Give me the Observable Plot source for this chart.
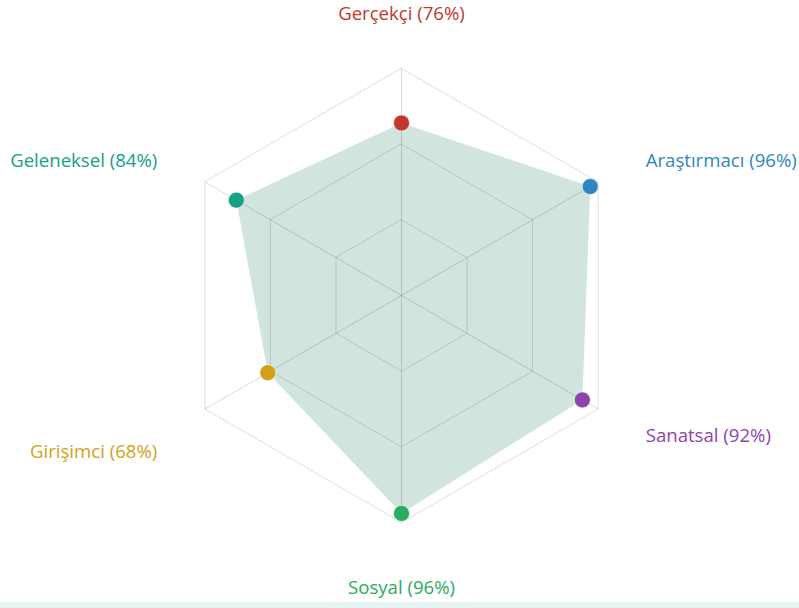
<!DOCTYPE html>
<html>
<head>
<meta charset="utf-8">
<script src="https://cdn.jsdelivr.net/npm/d3@7"></script>
<script src="https://cdn.jsdelivr.net/npm/@observablehq/plot@0.6"></script>
<style>
  html, body { margin: 0; padding: 0; background: #fff; }
  #strip { height: 6px; background: #e8f4ef; }
</style>
</head>
<body>
<div id="chart"></div>
<div id="strip"></div>
<script>
const categories = ["Gerçekçi", "Araştırmacı", "Sanatsal", "Sosyal", "Girişimci", "Geleneksel"];
const values = [76, 96, 92, 96, 68, 84];
const colors = ["#c0392b", "#2e86c1", "#8e44ad", "#27ae60", "#d4a017", "#16a085"];
const ringLevels = [100 / 3, 200 / 3, 100];

const W = 799, H = 602, CX = 401, CY = 295, R = 227;
const n = categories.length;
const ang = i => (i * 2 * Math.PI) / n;
const px = (i, v) => (v / 100) * Math.sin(ang(i));
const py = (i, v) => (v / 100) * Math.cos(ang(i));

const pts = categories.map((c, i) => ({ c, i, v: values[i], x: px(i, values[i]), y: py(i, values[i]), color: colors[i] }));
const rings = ringLevels.flatMap(l => categories.map((c, i) => ({ l, x: px(i, l), y: py(i, l) })));
const spokes = categories.map((c, i) => ({ x: px(i, 100), y: py(i, 100) }));

const labelR = 282 / R * 100;
const labelDy = [1, 7, 0, 11, 16, 7];
const labels = categories.map((c, i) => {
  const s = Math.sin(ang(i));
  return {
    text: `${c} (${values[i]}%)`,
    x: px(i, labelR), y: py(i, labelR),
    anchor: Math.abs(s) < 0.01 ? "middle" : (s > 0 ? "start" : "end"),
    dy: labelDy[i], color: colors[i]
  };
});

const textMarks = labels.map(d => Plot.text([d], {
  x: "x", y: "y", text: "text", fill: d.color, textAnchor: d.anchor,
  dy: d.dy, fontSize: 18.6
}));

const chart = Plot.plot({
  width: W, height: H,
  margin: 0,
  style: { fontFamily: "'Open Sans', sans-serif", background: "transparent" },
  x: { domain: [-CX / R, (W - CX) / R], range: [0, W], axis: null },
  y: { domain: [-(H - CY) / R, CY / R], range: [H, 0], axis: null },
  marks: [
    Plot.line(pts, { x: "x", y: "y", curve: "linear-closed", fill: "#d1e4de", stroke: "none" }),
    Plot.line(rings, { x: "x", y: "y", z: "l", curve: "linear-closed", stroke: "#000", strokeOpacity: 0.13, strokeWidth: 1 }),
    Plot.link(spokes, { x1: 0, y1: 0, x2: "x", y2: "y", stroke: "#000", strokeOpacity: 0.15, strokeWidth: 1 }),
    Plot.dot(pts, { x: "x", y: "y", r: 8, fill: "color", stroke: "#fff", strokeWidth: 1, strokeOpacity: 0.6 }),
    ...textMarks
  ]
});
document.getElementById("chart").appendChild(chart);
</script>
</body>
</html>
